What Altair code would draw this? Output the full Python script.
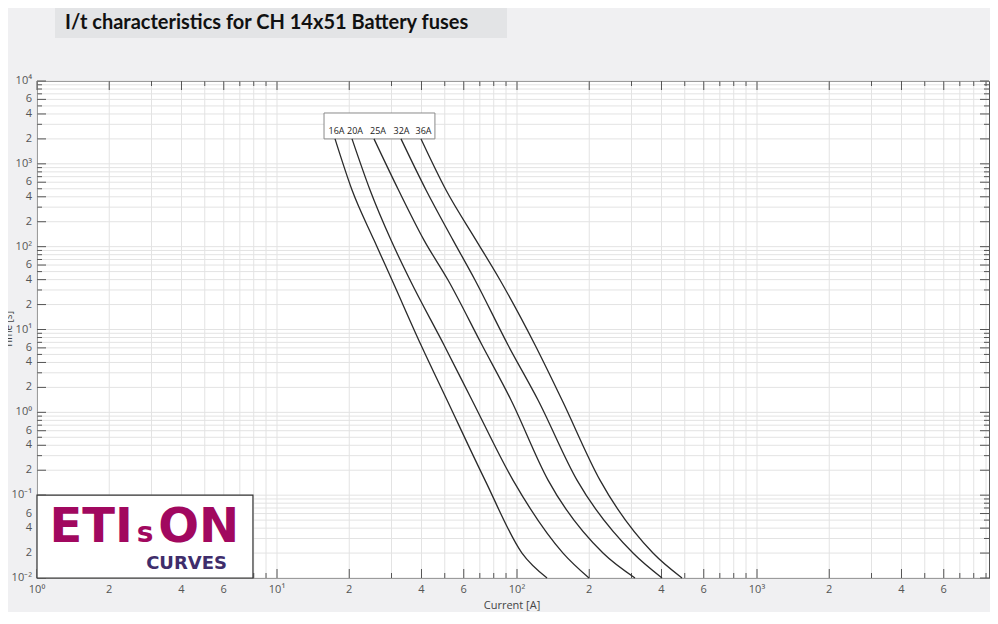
import math
import altair as alt
import pandas as pd

TITLE = "I/t characteristics for CH 14x51 Battery fuses"
X_TITLE = "Current [A]"
Y_TITLE = "Time [s]"

FUSES = ["16A", "20A", "25A", "32A", "36A"]

# time values (s) at which the curves were read
T_READ = [2000, 483, 120, 39.6, 6.5, 1.41, 0.152, 0.020, 0.010]

# current values (A) of every curve at those times
I_16 = [17.45, 20.54, 25.36, 30.14, 39.81, 51.09, 73.56, 104.9, 133.4]
I_20 = [20.54, 24.41, 29.85, 35.83, 49.64, 64.9, 96.2, 155.5, 199.5]
I_25 = [25.36, 32.08, 40.97, 51.58, 71.48, 94.4, 134.7, 228.2, 310.2]
I_32 = [32.86, 41.77, 54.12, 66.83, 91.73, 122.3, 177.8, 304.3, 402.0]
I_36 = [39.81, 50.6, 67.47, 84.95, 118.9, 154.0, 221.7, 368.6, 487.0]

# legend label positions (current, A) above the curve starts
LEGEND_LABEL_I = [17.7, 21.13, 26.35, 33.02, 40.77]
LEGEND_LABEL_T = 2000

# the visible window ends just short of 10^4 A
X_DOMAIN = [1, 9261]
Y_DOMAIN = [0.01, 10000]
X_TICKS = [m * 10 ** e for e in range(0, 4) for m in range(1, 10)]
Y_TICKS = [round(m * 10.0 ** e, 4) for e in range(-2, 4) for m in range(1, 10)] + [10000]
LONG_MANT = [1, 2, 4, 6]

X_LABEL_VALUES = [1, 2, 4, 6, 10, 20, 40, 60, 100, 200, 400, 600, 1000, 2000, 4000, 6000]
X_LABEL_TEXT = ["10\u2070", "2", "4", "6", "10\u00b9", "2", "4", "6", "10\u00b2", "2", "4", "6",
                "10\u00b3", "2", "4", "6"]
Y_LABEL_VALUES = [0.01, 0.02, 0.04, 0.06, 0.1, 0.2, 0.4, 0.6, 1, 2, 4, 6, 10, 20, 40, 60,
                  100, 200, 400, 600, 1000, 2000, 4000, 6000, 10000]
Y_LABEL_TEXT = ["10\u207b\u00b2", "2", "4", "6", "10\u207b\u00b9", "2", "4", "6", "10\u2070", "2", "4", "6",
                "10\u00b9", "2", "4", "6", "10\u00b2", "2", "4", "6", "10\u00b3", "2", "4", "6", "10\u2074"]

# legend box and logo box in data units
LEGEND_BOX = {"x": 15.7, "x2": 45.5, "y": 2000, "y2": 4110}
LOGO_BOX = {"x": 1, "x2": 7.94, "y": 0.01, "y2": 0.1}
LOGO_TEXT = [
    {"t": "ETI", "x": 1.68, "y": 0.0272, "size": 48, "color": "#a1085f"},
    {"t": "s", "x": 2.82, "y": 0.0272, "size": 28, "color": "#a1085f"},
    {"t": "ON", "x": 4.72, "y": 0.0272, "size": 48, "color": "#a1085f"},
    {"t": "CURVES", "x": 4.20, "y": 0.01300, "size": 18, "color": "#3f2d6b"},
]

W, H = 952, 497

series = [("16A", I_16), ("20A", I_20), ("25A", I_25), ("32A", I_32), ("36A", I_36)]
rows = []
for name, cur in series:
    for k, (i, t) in enumerate(zip(cur, T_READ)):
        rows.append({"fuse": name, "I": i, "t": t, "k": k})
lines_df = pd.DataFrame(rows)
leg_df = pd.DataFrame({"fuse": FUSES, "I": LEGEND_LABEL_I, "t": [LEGEND_LABEL_T] * len(FUSES)})

xs = alt.Scale(type="log", domain=X_DOMAIN, nice=False)
ys = alt.Scale(type="log", domain=Y_DOMAIN, nice=False)

FONT = "Open Sans"
LAB_COL = "#555555"
GRID_COL = "#e3e3e3"
TICK_COL = "#555555"

def X(field):
    return alt.X(field, type="quantitative", scale=xs, axis=None)

def Y(field):
    return alt.Y(field, type="quantitative", scale=ys, axis=None)

def mant(v):
    return round(v / 10 ** math.floor(math.log10(v) + 1e-9))

xt = pd.DataFrame({"v": X_TICKS})
xt["long"] = [mant(v) in LONG_MANT for v in X_TICKS]
yt = pd.DataFrame({"v": Y_TICKS})
yt["long"] = [mant(v) in LONG_MANT for v in Y_TICKS]

# grid
grid_x = alt.Chart(xt).mark_rule(color=GRID_COL, strokeWidth=1).encode(
    x=X("v"), y=alt.value(0), y2=alt.value(H))
grid_y = alt.Chart(yt).mark_rule(color=GRID_COL, strokeWidth=1).encode(
    y=Y("v"), x=alt.value(0), x2=alt.value(W))

# tick marks pointing inward on all four sides
tick_layers = []
for is_long, L in [(True, 9), (False, 5)]:
    xd = xt[xt.long == is_long]
    yd = yt[yt.long == is_long]
    tick_layers.append(alt.Chart(xd).mark_rule(color=TICK_COL, strokeWidth=1).encode(
        x=X("v"), y=alt.value(H), y2=alt.value(H - L)))
    tick_layers.append(alt.Chart(xd).mark_rule(color=TICK_COL, strokeWidth=1).encode(
        x=X("v"), y=alt.value(0), y2=alt.value(L)))
    tick_layers.append(alt.Chart(yd).mark_rule(color=TICK_COL, strokeWidth=1).encode(
        y=Y("v"), x=alt.value(0), x2=alt.value(L)))
    tick_layers.append(alt.Chart(yd).mark_rule(color=TICK_COL, strokeWidth=1).encode(
        y=Y("v"), x=alt.value(W), x2=alt.value(W - L)))

# tick labels and axis titles
xl_df = pd.DataFrame({"v": X_LABEL_VALUES, "label": X_LABEL_TEXT})
yl_df = pd.DataFrame({"v": Y_LABEL_VALUES, "label": Y_LABEL_TEXT})
x_labels = alt.Chart(xl_df).mark_text(
    font=FONT, fontSize=11, color=LAB_COL, align="center", baseline="middle").encode(
    x=X("v"), y=alt.value(H + 12), text="label:N")
y_labels = alt.Chart(yl_df).mark_text(
    font=FONT, fontSize=11, color=LAB_COL, align="right", baseline="middle").encode(
    y=Y("v"), x=alt.value(-5), text="label:N")

titles_df = pd.DataFrame({"x_title": [X_TITLE], "y_title": [Y_TITLE], "title": [TITLE]})
x_title = alt.Chart(titles_df).mark_text(
    font=FONT, fontSize=11, color="#444444", align="center", baseline="alphabetic").encode(
    x=alt.value(475), y=alt.value(H + 31), text="x_title:N")
y_title = alt.Chart(titles_df).mark_text(
    font=FONT, fontSize=10, color="#444444", align="center", baseline="alphabetic", angle=270).encode(
    x=alt.value(-25), y=alt.value(H / 2), text="y_title:N")

title_box = alt.Chart(titles_df).mark_rect(fill="#e3e4e6").encode(
    x=alt.value(18), x2=alt.value(470), y=alt.value(-73), y2=alt.value(-43))
title_text = alt.Chart(titles_df).mark_text(
    font="Lato", fontWeight="bold", fontSize=20, color="#111111",
    align="left", baseline="alphabetic").encode(
    x=alt.value(28), y=alt.value(-52), text="title:N")

# curves
lines = alt.Chart(lines_df).mark_line(interpolate="monotone", color="#2a2a2a", strokeWidth=1.3).encode(
    x=X("I"), y=Y("t"), detail="fuse:N", order="k:Q")

legend_box = alt.Chart(pd.DataFrame([LEGEND_BOX])).mark_rect(
    fill="white", stroke="#8a8a8a", strokeWidth=1).encode(
    x=X("x"), x2="x2:Q", y=Y("y"), y2="y2:Q")

legend_text = alt.Chart(leg_df).mark_text(
    font=FONT, fontSize=9, color="#222222", dy=-5, baseline="alphabetic", align="center").encode(
    x=X("I"), y=Y("t"), text="fuse:N")

logo_box = alt.Chart(pd.DataFrame([LOGO_BOX])).mark_rect(
    fill="white", stroke="#333333", strokeWidth=1.2).encode(
    x=X("x"), x2="x2:Q", y=Y("y"), y2="y2:Q")

logo_text = alt.Chart(pd.DataFrame(LOGO_TEXT)).mark_text(
    font="DejaVu Sans", fontWeight="bold", baseline="alphabetic", align="center").encode(
    x=X("x"), y=Y("y"), text="t:N",
    size=alt.Size("size:Q", scale=None, legend=None),
    color=alt.Color("color:N", scale=None, legend=None))

chart = alt.layer(
    grid_x, grid_y, title_box, title_text, legend_box, *tick_layers, lines, legend_text,
    logo_box, logo_text, x_labels, y_labels, x_title, y_title
).properties(
    width=W, height=H,
    autosize=alt.AutoSizeParams(type="none"),
    padding={"left": 29, "top": 73, "right": 1, "bottom": 34},
    background="#f0f0f2",
).configure_view(fill="white", stroke="#555555", strokeWidth=1)

chart.save("out.html", embed_options={"renderer": "svg", "actions": False})
